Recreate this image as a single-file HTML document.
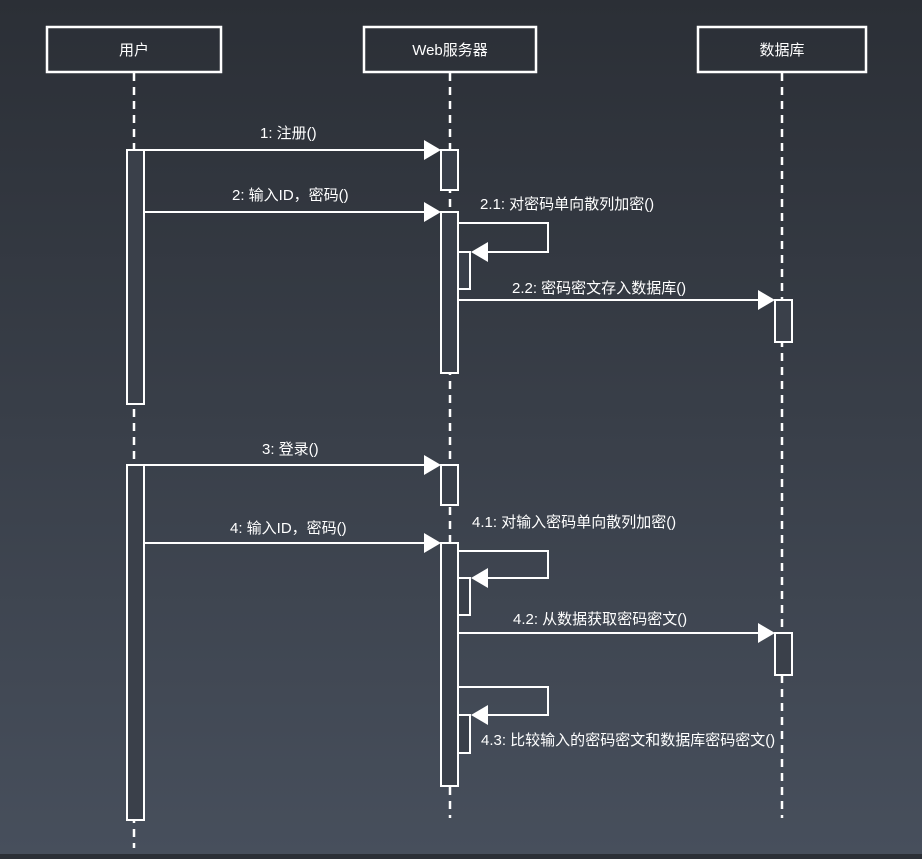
<!DOCTYPE html>
<html><head><meta charset="utf-8"><style>
html,body{margin:0;padding:0}
body{width:922px;height:854px;background:linear-gradient(#2b2f36,#474f5c);overflow:hidden}
svg text{font-family:"Liberation Sans","Noto Sans CJK SC",sans-serif;fill:#fff;font-size:15px}
</style></head><body>
<svg width="922" height="854" xmlns="http://www.w3.org/2000/svg">
<g stroke="#fff" stroke-width="2.5" fill="none">
<rect x="47" y="27" width="174" height="45"/>
<rect x="364" y="27" width="172" height="45"/>
<rect x="698" y="27" width="168" height="45"/>
</g>
<text x="134" y="55" text-anchor="middle">用户</text>
<text x="450" y="55" text-anchor="middle">Web服务器</text>
<text x="782" y="55" text-anchor="middle">数据库</text>
<g stroke="#fff" stroke-width="2.5" stroke-dasharray="8,6">
<line x1="134" y1="73" x2="134" y2="848"/>
<line x1="450" y1="73" x2="450" y2="818"/>
<line x1="782" y1="73" x2="782" y2="818"/>
</g>
<g stroke="#fff" stroke-width="2" fill="#3a404a">
<rect x="127" y="150" width="17" height="254"/>
<rect x="127" y="465" width="17" height="355"/>
<rect x="441" y="150" width="17" height="40"/>
<rect x="441" y="212" width="17" height="161"/>
<rect x="441" y="465" width="17" height="40"/>
<rect x="441" y="543" width="17" height="243"/>
<rect x="775" y="300" width="17" height="42"/>
<rect x="775" y="633" width="17" height="42"/>
<rect x="458" y="252" width="12" height="37"/>
<rect x="458" y="578" width="12" height="37"/>
<rect x="458" y="715" width="12" height="38"/>
</g>
<g stroke="#fff" stroke-width="2" fill="none">
<line x1="144" y1="150" x2="428" y2="150"/>
<line x1="144" y1="212" x2="428" y2="212"/>
<line x1="144" y1="465" x2="428" y2="465"/>
<line x1="144" y1="543" x2="428" y2="543"/>
<line x1="458" y1="300" x2="762" y2="300"/>
<line x1="458" y1="633" x2="762" y2="633"/>
<polyline points="458,223 548,223 548,252 484,252"/>
<polyline points="458,551 548,551 548,578 484,578"/>
<polyline points="458,687 548,687 548,715 484,715"/>
</g>
<g fill="#fff">
<polygon points="424,140 441,150 424,160"/>
<polygon points="424,202 441,212 424,222"/>
<polygon points="424,455 441,465 424,475"/>
<polygon points="424,533 441,543 424,553"/>
<polygon points="758,290 775,300 758,310"/>
<polygon points="758,623 775,633 758,643"/>
<polygon points="488,242 471,252 488,262"/>
<polygon points="488,568 471,578 488,588"/>
<polygon points="488,705 471,715 488,725"/>
</g>
<text x="260" y="138">1: 注册()</text>
<text x="232" y="200">2: 输入ID，密码()</text>
<text x="480" y="209">2.1: 对密码单向散列加密()</text>
<text x="512" y="293">2.2: 密码密文存入数据库()</text>
<text x="262" y="454">3: 登录()</text>
<text x="230" y="533">4: 输入ID，密码()</text>
<text x="472" y="527">4.1: 对输入密码单向散列加密()</text>
<text x="513" y="624">4.2: 从数据获取密码密文()</text>
<text x="481" y="745">4.3: 比较输入的密码密文和数据库密码密文()</text>
</svg>
</body></html>
